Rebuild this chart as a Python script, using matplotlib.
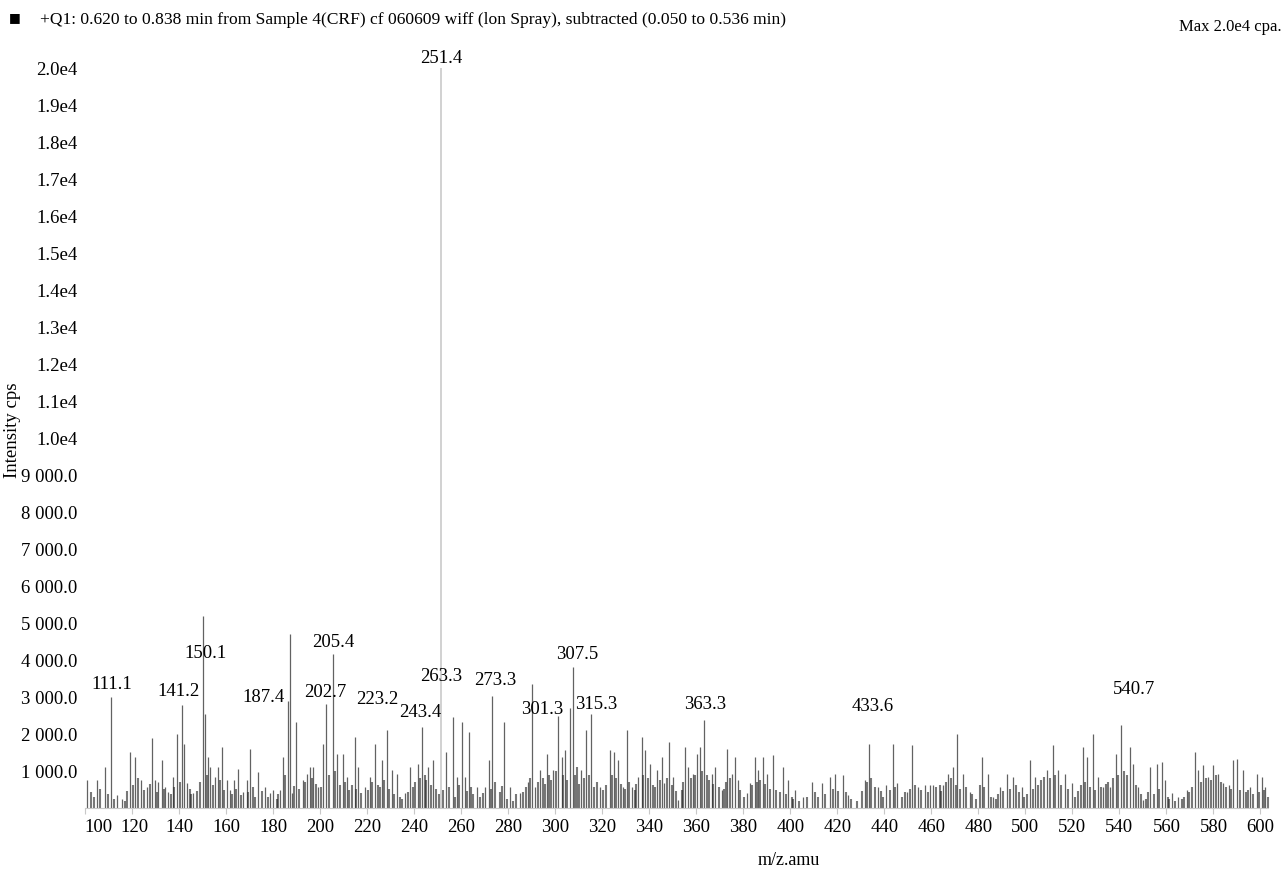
import numpy as np
import matplotlib
matplotlib.use('Agg')
import matplotlib.pyplot as plt
import matplotlib.transforms as mtransforms
from matplotlib.ticker import FixedLocator, FuncFormatter

plt.rcParams['font.family'] = ['Liberation Serif', 'DejaVu Serif']

# main peaks (m/z, intensity in cps)
peak_mz = [101.0, 105.0, 108.5, 111.1, 113.5, 115.7, 119.2, 121.3, 123.9, 126.3,
           128.4, 129.8, 131.2, 132.7, 134.1, 135.5, 137.6, 139.0, 141.2, 142.2,
           143.3, 146.1, 150.1, 151.0, 152.3, 153.2, 155.3, 156.7, 158.2, 160.3,
           161.7, 163.4, 165.2, 167.4, 168.8, 170.2, 173.8, 176.6, 178.7, 180.1,
           183.0, 184.4, 186.5, 187.4, 188.0, 189.8, 192.9, 194.3, 195.7, 197.2,
           199.3, 201.4, 202.7, 205.4, 207.1, 209.9, 211.4, 214.9, 216.3, 219.1,
           221.3, 223.2, 226.2, 228.4, 230.5, 232.6, 236.2, 238.3, 241.8, 243.4,
           246.1, 248.2, 251.4, 253.6, 256.7, 258.4, 260.3, 261.7, 263.3, 266.6,
           270.2, 271.8, 273.3, 278.4, 280.8, 285.1, 288.6, 290.0, 291.4, 293.6,
           296.4, 299.0, 301.3, 302.8, 304.2, 306.2, 307.5, 311.2, 313.2, 315.3,
           319.1, 323.4, 325.1, 326.9, 329.0, 330.5, 332.6, 335.4, 336.8, 338.2,
           340.4, 343.2, 345.3, 346.3, 348.6, 350.3, 352.4, 355.3, 356.7, 358.8,
           360.2, 361.5, 363.3, 366.6, 368.0, 370.9, 373.3, 375.1, 376.5, 377.9,
           381.5, 382.9, 385.0, 386.4, 388.6, 390.0, 392.8, 397.1, 399.2, 402.0,
           405.6, 409.1, 413.4, 416.9, 419.1, 422.3, 424.7, 431.8, 433.6, 437.5,
           440.7, 443.9, 445.6, 449.6, 451.9, 454.5, 457.3, 459.5, 460.9, 465.1,
           467.3, 469.4, 471.1, 473.6, 476.5, 481.5, 484.3, 486.4, 489.2, 492.1,
           494.9, 498.5, 502.0, 504.1, 509.1, 511.9, 514.0, 516.9, 519.7, 524.7,
           526.1, 528.9, 531.1, 533.2, 536.0, 538.5, 540.7, 544.5, 545.9, 548.1,
           550.2, 553.0, 555.9, 558.0, 559.4, 562.3, 565.1, 568.7, 572.2, 573.6,
           575.7, 577.8, 580.0, 582.1, 584.2, 586.4, 588.5, 589.9, 592.7, 595.6,
           598.4, 600.6, 602.0]
peak_int = [753, 753, 1110, 3000, 340, 250, 1510, 1380, 753, 573,
            1900, 753, 708, 1290, 573, 440, 843, 2000, 2790, 1740,
            663, 394, 5200, 2540, 1380, 1110, 843, 1110, 1649, 753,
            484, 753, 1066, 440, 753, 1600, 960, 573, 394, 484,
            484, 1380, 2900, 4700, 394, 2320, 753, 932, 1111, 1111,
            573, 1740, 2800, 4150, 1470, 1470, 843, 1920, 1111, 573,
            843, 1740, 1290, 2100, 1022, 932, 394, 1111, 1200, 2190,
            1111, 1290, 20000, 1514, 2455, 843, 2320, 843, 2050, 573,
            573, 1290, 3040, 2320, 573, 394, 708, 3350, 573, 1022,
            1470, 1022, 2500, 1380, 1559, 2700, 3800, 1022, 2100, 2550,
            573, 1559, 1514, 1290, 573, 2100, 573, 843, 1917, 1559,
            1201, 1022, 1380, 663, 1783, 843, 215, 1649, 1111, 932,
            1470, 1649, 2370, 932, 1111, 484, 1604, 932, 1380, 753,
            394, 663, 1380, 1022, 1380, 932, 1425, 1111, 753, 484,
            305, 708, 663, 843, 932, 888, 350, 753, 1740, 573,
            618, 1740, 663, 440, 1694, 573, 618, 618, 618, 618,
            932, 1111, 2007, 932, 440, 1380, 932, 305, 573, 932,
            843, 573, 1290, 843, 1022, 1694, 1022, 932, 663, 1649,
            1380, 2007, 843, 573, 573, 1470, 2230, 1649, 1201, 573,
            215, 1111, 1201, 1246, 753, 394, 305, 484, 1514, 1022,
            1156, 843, 1156, 932, 663, 618, 1290, 1335, 1022, 573,
            932, 843, 573]

# low-level background lines under the main peaks
floor_mz = [102.5, 104.0, 106.5, 110.0, 112.5, 117.0, 118.0, 120.5, 122.5, 125.0,
            127.5, 130.5, 133.5, 136.5, 138.0, 140.3, 144.5, 145.3, 147.5, 149.0,
            151.8, 154.3, 157.5, 159.3, 162.7, 164.3, 166.3, 169.5, 171.3, 172.5,
            175.2, 177.7, 181.5, 182.2, 185.3, 188.8, 191.0, 193.6, 196.4, 198.2,
            200.3, 203.9, 206.3, 208.5, 210.6, 212.5, 213.7, 215.5, 217.5, 220.2,
            222.3, 224.5, 225.4, 227.3, 229.4, 231.4, 233.8, 235.0, 237.2, 239.5,
            240.5, 242.6, 244.5, 245.2, 247.3, 249.5, 250.5, 252.3, 255.0, 257.5,
            259.2, 262.5, 264.0, 265.2, 268.0, 269.1, 272.8, 274.5, 276.5, 277.5,
            279.5, 282.0, 283.5, 286.5, 287.5, 289.3, 292.5, 294.8, 295.5, 297.5,
            298.3, 300.2, 303.5, 305.2, 308.5, 309.5, 310.3, 312.3, 314.5, 316.5,
            317.8, 320.5, 321.8, 324.2, 326.0, 328.0, 329.7, 331.5, 333.8, 334.5,
            337.5, 339.3, 341.8, 342.5, 344.4, 347.5, 349.5, 351.3, 353.8, 354.4,
            357.8, 359.5, 362.6, 364.4, 365.5, 367.3, 369.5, 371.8, 372.5, 374.4,
            378.8, 380.2, 383.8, 385.7, 387.3, 389.3, 391.4, 394.0, 395.5, 398.3,
            400.6, 401.2, 403.8, 407.3, 410.5, 412.0, 414.8, 418.0, 420.5, 423.5,
            426.0, 428.5, 430.5, 432.6, 434.4, 436.0, 438.6, 439.5, 442.5, 444.7,
            447.5, 448.6, 450.8, 453.2, 455.8, 458.4, 462.0, 463.5, 464.3, 466.2,
            468.3, 470.3, 472.3, 474.8, 477.5, 479.0, 480.5, 482.6, 485.3, 487.5,
            488.2, 490.5, 493.3, 496.0, 497.2, 499.5, 500.8, 503.1, 505.5, 506.5,
            507.8, 510.5, 512.8, 515.2, 518.1, 521.0, 522.5, 523.5, 525.5, 527.3,
            529.8, 532.2, 534.5, 535.2, 537.3, 539.3, 541.8, 543.3, 547.0, 549.3,
            551.5, 552.3, 554.5, 557.0, 560.5, 561.3, 563.6, 566.5, 567.5, 569.8,
            571.0, 574.5, 576.8, 578.9, 581.1, 583.3, 585.4, 587.6, 591.2, 593.8,
            594.6, 596.8, 599.5, 601.4, 603.0]
floor_int = [420, 300, 520, 380, 250, 200, 450, 620, 800, 480,
             650, 420, 520, 380, 560, 700, 520, 380, 450, 700,
             900, 620, 750, 480, 380, 520, 340, 420, 560, 300,
             450, 300, 250, 380, 900, 600, 520, 700, 800, 650,
             560, 900, 1000, 620, 700, 480, 620, 520, 400, 480,
             700, 620, 560, 750, 520, 380, 300, 250, 420, 560,
             700, 800, 900, 750, 620, 520, 380, 480, 560, 300,
             620, 450, 560, 380, 300, 400, 520, 700, 420, 600,
             250, 200, 380, 420, 560, 800, 700, 800, 650, 900,
             750, 1000, 900, 750, 900, 1100, 650, 800, 900, 560,
             700, 480, 620, 900, 800, 650, 520, 700, 480, 650,
             900, 800, 620, 560, 750, 800, 620, 450, 480, 700,
             800, 900, 1000, 900, 750, 650, 560, 520, 700, 800,
             480, 300, 620, 700, 750, 650, 520, 480, 420, 380,
             300, 250, 200, 300, 420, 300, 380, 520, 450, 420,
             250, 200, 450, 700, 800, 560, 450, 300, 500, 560,
             300, 420, 520, 620, 480, 420, 560, 620, 450, 700,
             800, 620, 520, 560, 380, 250, 620, 560, 300, 250,
             380, 450, 520, 620, 420, 300, 380, 520, 620, 750,
             850, 800, 900, 620, 520, 300, 450, 620, 700, 560,
             480, 560, 650, 700, 800, 900, 1000, 900, 620, 380,
             250, 420, 380, 520, 300, 250, 200, 250, 300, 420,
             560, 700, 800, 750, 900, 700, 560, 520, 480, 420,
             500, 380, 420, 480, 300]

labelled = [111.1, 141.2, 150.1, 187.4, 202.7, 205.4, 223.2, 243.4, 251.4,
            263.3, 273.3, 301.3, 307.5, 315.3, 363.3, 433.6, 540.7]
# where the software put each label: shift in m/z, height in cps
label_dx = [0.4, -1.2, 1.4, -11.6, -0.6, 0.1, 1.0, -0.9, 0.1,
            -11.8, 1.1, -6.9, 1.8, 2.1, 0.5, 1.6, 5.5]
label_y = [3351, 3162, 4189, 3000, 3135, 4486, 2946, 2568, 20270,
           3541, 3459, 2649, 4162, 2784, 2784, 2730, 3216]

x_ticks = list(range(100, 601, 20))
y_ticks = list(range(1000, 20001, 1000))

title = '+Q1: 0.620 to 0.838 min from Sample 4(CRF) cf 060609 wiff (lon Spray), subtracted (0.050 to 0.536 min)'


def ytick_fmt(v, pos):
    if v >= 10000:
        return '{:.1f}e4'.format(v / 1e4)
    return '{:,}.0'.format(int(v)).replace(',', ' ')


def main():
    fig = plt.figure(figsize=(12.88, 8.72), dpi=100)
    ax = fig.add_axes([80 / 1288, 64 / 872, 1200 / 1288, 763 / 872])

    mz = np.array(peak_mz)
    it = np.array(peak_int)
    base = it >= 10000
    ax.vlines(floor_mz, 0, floor_int, colors='#1e1e1e', lw=1.5, alpha=0.6)
    ax.vlines(mz[~base], 0, it[~base], colors='#2e2e2e', lw=0.9, alpha=0.75)
    ax.vlines(mz[base], 0, it[base], colors='#c4c4c4', lw=1.2, alpha=0.9)

    for m, dx, ly in zip(labelled, label_dx, label_y):
        ax.text(m + dx, ly, '{:.1f}'.format(m), ha='center', va='center', fontsize=13.5)

    ax.set_xlim(97.9, 608.3)
    ax.set_ylim(0, 20622)
    for s in ['top', 'right', 'left']:
        ax.spines[s].set_visible(False)
    ax.spines['bottom'].set_color('#c8c8c8')
    ax.spines['bottom'].set_bounds(100, 603)

    ax.xaxis.set_major_locator(FixedLocator(x_ticks))
    ax.yaxis.set_major_locator(FixedLocator(y_ticks))
    ax.yaxis.set_major_formatter(FuncFormatter(ytick_fmt))
    ax.tick_params(axis='x', length=4, color='#c8c8c8', pad=4, labelsize=13.5)
    ax.tick_params(axis='y', length=0, pad=2, labelsize=13.5)

    # the first two labels sit a bit right of their ticks in the original
    nudges = {100: 14, 120: 3}
    for t, lab in zip(x_ticks, ax.get_xticklabels()):
        if t in nudges:
            off = mtransforms.ScaledTranslation(nudges[t] / 100, 0, fig.dpi_scale_trans)
            lab.set_transform(lab.get_transform() + off)

    fig.text(13 / 1288, 1 - 478 / 872, 'Intensity cps', rotation=90, ha='center', va='bottom', fontsize=13.5)
    fig.text(789 / 1288, 1 - 860 / 872, 'm/z.amu', ha='center', va='center', fontsize=13)
    fig.text(15 / 1288, 1 - 18 / 872, '\u25a0', ha='center', va='center', fontsize=9, family='DejaVu Sans')
    fig.text(40 / 1288, 1 - 20 / 872, title, ha='left', va='center', fontsize=12.6)
    fig.text(1282 / 1288, 1 - 27 / 872, 'Max 2.0e4 cpa.', ha='right', va='center', fontsize=12)

    fig.savefig('out.png', dpi=100)


if __name__ == '__main__':
    main()
